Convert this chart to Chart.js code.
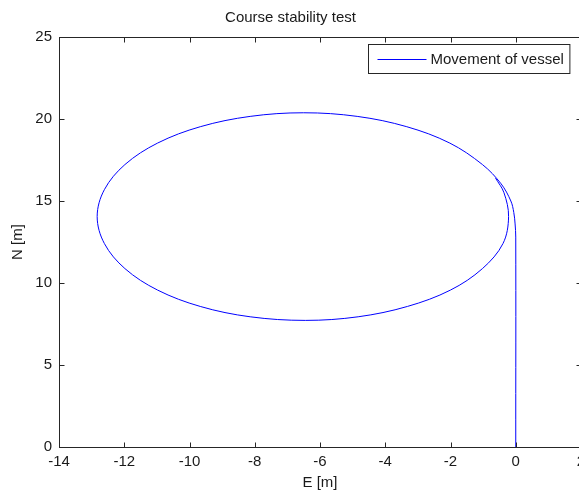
<!DOCTYPE html>
<html>
<head>
<meta charset="utf-8">
<title>Course stability test</title>
<script src="https://cdn.jsdelivr.net/npm/chart.js@4.4.1/dist/chart.umd.min.js"></script>
<style>
    html, body { margin: 0; padding: 0; background: #fff; overflow: hidden; }
    canvas { display: block; }
</style>
</head>
<body>
<canvas id="courseChart" width="620" height="500"></canvas>
<script>
// Vessel track, east / north position in metres
const eastPos = [
    0, 0, -0.02, -0.06, -0.15, -0.45, -1.02, -2.02, -3.34, -4.86,
    -6.5, -8.14, -9.67, -10.98, -11.98, -12.61, -12.83, -12.61, -11.98, -10.98,
    -9.67, -8.14, -6.45, -4.83, -3.32, -2.0, -1.02, -0.39, -0.22, -0.36,
    -0.62
];
const northPos = [
    0, 12.8, 13.6, 14.3, 15.0, 16.05, 17.22, 18.53, 19.53, 20.16,
    20.38, 20.16, 19.53, 18.53, 17.22, 15.69, 14.05, 12.41, 10.88, 9.57,
    8.57, 7.94, 7.72, 7.94, 8.57, 9.57, 10.88, 12.41, 14.05, 15.5,
    16.4
];

// axis ticks
const eastTicks = [-14, -12, -10, -8, -6, -4, -2, 0, 2];
const northTicks = [0, 5, 10, 15, 20, 25];

const lineColor = '#0000ff';
const textColor = '#1a1a1a';
const axisColor = '#262626';
const fontFamily = '"Liberation Sans", Arial, Helvetica, sans-serif';

// box around the plot with inward tick marks, plus the legend box
const frameAndLegend = {
    id: 'frameAndLegend',
    afterDraw(chart) {
        const { ctx, chartArea: a, scales: { x, y } } = chart;
        const L = Math.round(a.left) + 0.5, R = Math.round(a.right) + 0.5;
        const T = Math.round(a.top) + 0.5, B = Math.round(a.bottom) + 0.5;
        const tick = 5;

        ctx.save();
        ctx.strokeStyle = axisColor;
        ctx.lineWidth = 1;
        ctx.strokeRect(L, T, R - L, B - T);

        ctx.beginPath();
        x.ticks.forEach(t => {
            const px = Math.round(x.getPixelForValue(t.value)) + 0.5;
            ctx.moveTo(px, B); ctx.lineTo(px, B - tick);
            ctx.moveTo(px, T); ctx.lineTo(px, T + tick);
        });
        y.ticks.forEach(t => {
            const py = Math.round(y.getPixelForValue(t.value)) + 0.5;
            ctx.moveTo(L, py); ctx.lineTo(L + tick, py);
            ctx.moveTo(R, py); ctx.lineTo(R - tick, py);
        });
        ctx.stroke();

        // legend
        const label = chart.data.datasets[0].label;
        ctx.font = '15px ' + fontFamily;
        const tw = ctx.measureText(label).width;
        const w = 9 + 49 + 4 + tw + 6, h = 29;
        const bx = Math.round(a.right - 12 - w) + 0.5, by = Math.round(a.top + 7) + 0.5;
        ctx.fillStyle = '#fff';
        ctx.fillRect(bx, by, w, h);
        ctx.strokeStyle = axisColor;
        ctx.strokeRect(bx, by, w, h);

        const my = Math.round(by + h / 2);
        ctx.strokeStyle = lineColor;
        ctx.beginPath();
        ctx.moveTo(bx + 9, my + 0.5);
        ctx.lineTo(bx + 58, my + 0.5);
        ctx.stroke();

        ctx.fillStyle = textColor;
        ctx.textBaseline = 'middle';
        ctx.textAlign = 'left';
        ctx.fillText(label, bx + 62, my + 1);
        ctx.restore();
    }
};

const track = eastPos.map((e, i) => ({ x: e, y: northPos[i] }));

new Chart(document.getElementById('courseChart').getContext('2d'), {
    type: 'scatter',
    data: {
        datasets: [{
            label: 'Movement of vessel',
            data: track,
            showLine: true,
            borderColor: lineColor,
            borderWidth: 1,
            pointRadius: 0,
            tension: 0.35,
            fill: false
        }]
    },
    options: {
        responsive: false,
        animation: false,
        layout: { padding: { right: 39 } },
        plugins: {
            legend: { display: false },
            tooltip: { enabled: false },
            title: {
                display: true,
                text: 'Course stability test',
                color: textColor,
                font: { family: fontFamily, size: 15, weight: 'normal' },
                padding: { top: 9, bottom: 10 }
            }
        },
        scales: {
            x: {
                type: 'linear',
                min: -14,
                max: 2,
                afterBuildTicks: s => { s.ticks = eastTicks.map(v => ({ value: v })); },
                afterFit: s => { s.height = 53; },
                grid: { display: false, drawTicks: false },
                border: { display: false },
                ticks: {
                    autoSkip: false, maxRotation: 0, padding: 6, color: textColor,
                    font: { family: fontFamily, size: 15 }
                },
                title: {
                    display: true, text: 'E [m]', color: textColor,
                    font: { family: fontFamily, size: 15 },
                    padding: { top: 0, bottom: 8 }
                }
            },
            y: {
                type: 'linear',
                min: 0,
                max: 25,
                afterBuildTicks: s => { s.ticks = northTicks.map(v => ({ value: v })); },
                afterFit: s => { s.width = 59; },
                grid: { display: false, drawTicks: false },
                border: { display: false },
                ticks: {
                    autoSkip: false, padding: 7, color: textColor,
                    font: { family: fontFamily, size: 15 }
                },
                title: {
                    display: true, text: 'N [m]', color: textColor,
                    font: { family: fontFamily, size: 15 },
                    padding: { top: 9, bottom: 0 }
                }
            }
        }
    },
    plugins: [frameAndLegend]
});
</script>
</body>
</html>
